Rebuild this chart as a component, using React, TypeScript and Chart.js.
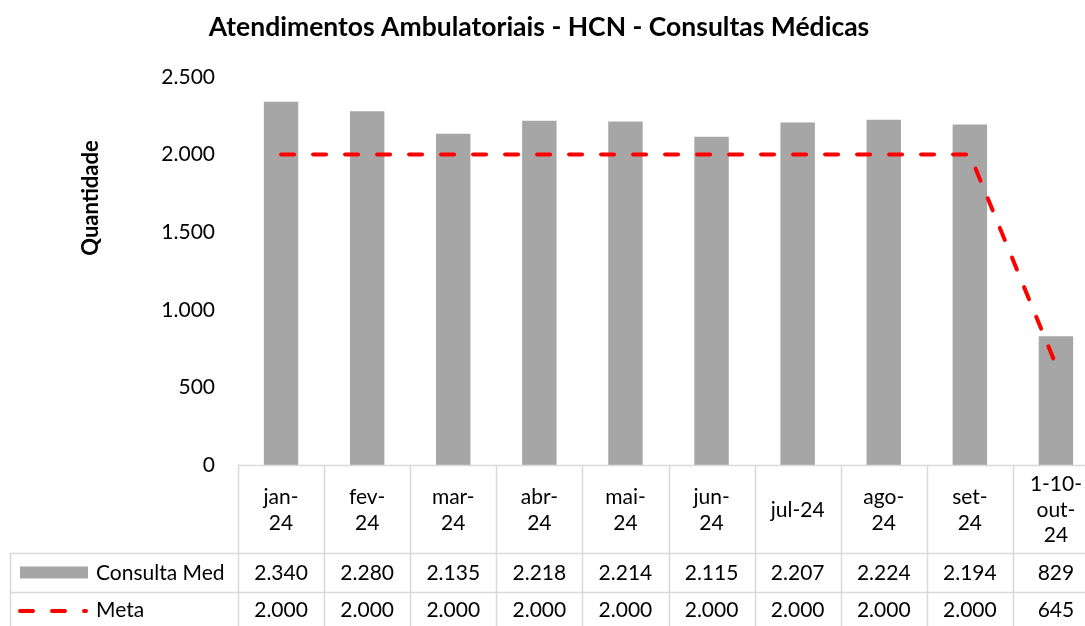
import React, { useEffect, useRef } from "react";
import { Chart, registerables } from "chart.js";

Chart.register(...registerables);

const chartTitle = "Atendimentos Ambulatoriais - HCN - Consultas Médicas";
const yAxisTitle = "Quantidade";
const categories: string[][] = [
  ["jan-", "24"],
  ["fev-", "24"],
  ["mar-", "24"],
  ["abr-", "24"],
  ["mai-", "24"],
  ["jun-", "24"],
  ["jul-24"],
  ["ago-", "24"],
  ["set-", "24"],
  ["1-10-", "out-", "24"],
];
const consultaLabel = "Consulta Med";
const consultaValues = [2340, 2280, 2135, 2218, 2214, 2115, 2207, 2224, 2194, 829];
const metaLabel = "Meta";
const metaValues = [2000, 2000, 2000, 2000, 2000, 2000, 2000, 2000, 2000, 645];
const yMin = 0;
const yMax = 2500;
const yStep = 500;

const FONT = "Lato, 'Open Sans', sans-serif";
const GRID = "#d9d9d9";
const BAR = "#a6a6a6";
const RED = "#ff0000";

function fmt(n: number): string {
  const s = Math.round(n).toString();
  return s.replace(/\B(?=(\d{3})+(?!\d))/g, ".");
}

const tablePlugin = {
  id: "dataTable",
  afterDraw(chart: any) {
    const ctx = chart.ctx as CanvasRenderingContext2D;
    const xs = chart.scales.x;
    const area = chart.chartArea;
    const n = categories.length;
    const w = (area.right - area.left) / n;
    const top = area.bottom;
    const row1 = 553;
    const row2 = 592;
    const bottom = 626;
    const tableLeft = 10;

    ctx.save();
    // grid
    ctx.strokeStyle = GRID;
    ctx.lineWidth = 1.5;
    ctx.setLineDash([]);
    ctx.beginPath();
    ctx.moveTo(area.left, top + 0.5);
    ctx.lineTo(area.right, top + 0.5);
    ctx.moveTo(tableLeft, row1 + 0.5);
    ctx.lineTo(area.right, row1 + 0.5);
    ctx.moveTo(tableLeft, row2 + 0.5);
    ctx.lineTo(area.right, row2 + 0.5);
    ctx.moveTo(tableLeft + 0.5, row1);
    ctx.lineTo(tableLeft + 0.5, bottom);
    for (let i = 0; i <= n; i++) {
      const x = Math.round(xs.getPixelForValue(Math.min(i, n - 1)) + (i === n ? w / 2 : -w / 2)) + 0.5;
      ctx.moveTo(x, top);
      ctx.lineTo(x, bottom);
    }
    ctx.stroke();

    // header labels
    ctx.fillStyle = "#000";
    ctx.font = `21px ${FONT}`;
    ctx.textAlign = "center";
    ctx.textBaseline = "middle";
    const lh = 25.5;
    const hc = (top + row1) / 2 + 1;
    categories.forEach((lines, i) => {
      const cx = xs.getPixelForValue(i);
      const start = hc - ((lines.length - 1) * lh) / 2;
      lines.forEach((t, j) => ctx.fillText(t, cx, start + j * lh));
    });
    // values
    const r1c = (row1 + row2) / 2 + 1;
    const r2c = (row2 + bottom) / 2 + 1;
    consultaValues.forEach((v, i) => ctx.fillText(fmt(v), xs.getPixelForValue(i), r1c));
    metaValues.forEach((v, i) => ctx.fillText(fmt(v), xs.getPixelForValue(i), r2c));

    // legend keys
    ctx.fillStyle = BAR;
    ctx.fillRect(20, r1c - 7, 68, 12);
    ctx.strokeStyle = RED;
    ctx.lineWidth = 4;
    ctx.lineCap = "round";
    ctx.setLineDash([13, 19]);
    ctx.beginPath();
    ctx.moveTo(20, r2c + 1);
    ctx.lineTo(86, r2c + 1);
    ctx.stroke();
    ctx.setLineDash([]);
    ctx.fillStyle = "#000";
    ctx.textAlign = "left";
    ctx.fillText(consultaLabel, 96, r1c);
    ctx.fillText(metaLabel, 96, r2c);

    // title
    ctx.font = `bold 26.5px ${FONT}`;
    ctx.textAlign = "center";
    ctx.fillText(chartTitle, 539, 27);

    // y axis title
    ctx.font = `bold 22px ${FONT}`;
    ctx.translate(91, 198);
    ctx.rotate(-Math.PI / 2);
    ctx.fillText(yAxisTitle, 0, 0);
    ctx.restore();
  },
};

export default function App() {
  const ref = useRef<HTMLCanvasElement>(null);
  useEffect(() => {
    if (!ref.current) return;
    const chart = new Chart(ref.current, {
      type: "bar",
      data: {
        labels: categories,
        datasets: [
          {
            type: "line",
            label: metaLabel,
            data: metaValues,
            borderColor: RED,
            backgroundColor: RED,
            borderWidth: 4,
            borderDash: [13, 19],
            borderCapStyle: "round",
            pointRadius: 0,
            tension: 0,
            fill: false,
            order: 1,
          } as any,
          {
            type: "bar",
            label: consultaLabel,
            data: consultaValues,
            backgroundColor: BAR,
            barPercentage: 0.4,
            categoryPercentage: 1.0,
            order: 2,
          },
        ],
      },
      options: {
        animation: false,
        responsive: false,
        maintainAspectRatio: false,
        layout: { padding: { top: 77, bottom: 161, left: 0, right: 1 } },
        plugins: {
          legend: { display: false },
          title: { display: false },
          tooltip: { enabled: false },
        },
        scales: {
          x: { display: false },
          y: {
            min: yMin,
            max: yMax,
            border: { display: false },
            grid: { display: false, drawTicks: false },
            ticks: {
              stepSize: yStep,
              padding: 23,
              color: "#000",
              font: { family: FONT, size: 21 },
              callback: (v: any) => fmt(Number(v)),
            },
            afterFit: (s: any) => {
              s.width = 238;
            },
          },
        },
      },
      plugins: [tablePlugin],
    });
    return () => chart.destroy();
  }, []);
  return (
    <div style={{ position: "absolute", left: 0, top: 0, width: 1085, height: 626, overflow: "hidden", background: "#fff" }}>
      <canvas ref={ref} width={1100} height={626} style={{ display: "block" }} />
    </div>
  );
}
